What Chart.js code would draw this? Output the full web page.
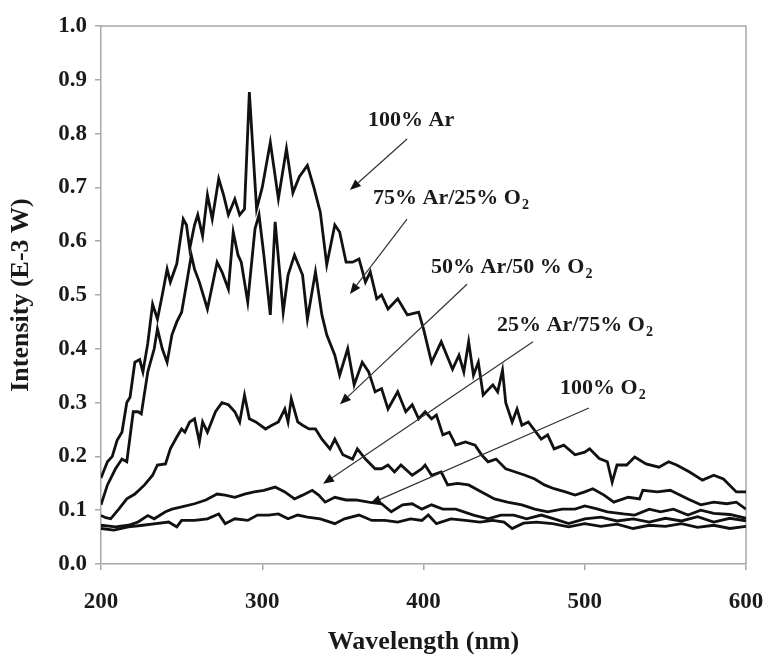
<!DOCTYPE html>
<html lang="en">
<head>
<meta charset="UTF-8">
<title>Intensity vs Wavelength</title>
<script src="https://cdn.jsdelivr.net/npm/chart.js"></script>
<style>
    html, body { margin: 0; padding: 0; background: #ffffff; }
    .chart-box { position: relative; width: 764px; height: 662px; }
</style>
</head>
<body>
<div class="chart-box"><canvas id="spectrumChart"></canvas></div>
<script>
// --- data (wavelength in nm, intensity in E-3 W) ---
const ar100Wl = [200,202,204,207,210,213,216,218,221,224,226,229,232,235,238,241,243,247,251,253,255,258,260,263,266,269,273,276,279,283,286,289,292,294,296.5,300,305,310,315,319,323,328,332,336,340,345,348,352,356,360,364,367,371,374,378,384,390,397,400,405,411,418,422,425,428,431,434,437,443,446,449,451,455,458,461,465,473,477,481,487,494,500,503,509,514,517,520,526,531,538,546,552,557,565,573,580,586,594,600];
const ar100Val = [0.16,0.175,0.19,0.20,0.23,0.245,0.30,0.31,0.375,0.38,0.357,0.41,0.483,0.455,0.50,0.548,0.524,0.558,0.641,0.63,0.586,0.63,0.649,0.61,0.686,0.641,0.716,0.686,0.649,0.678,0.649,0.66,0.877,0.78,0.66,0.70,0.784,0.679,0.772,0.69,0.72,0.741,0.70,0.654,0.556,0.63,0.617,0.561,0.561,0.567,0.524,0.543,0.493,0.50,0.474,0.493,0.463,0.468,0.437,0.375,0.413,0.362,0.388,0.357,0.413,0.351,0.375,0.314,0.333,0.32,0.36,0.30,0.264,0.288,0.258,0.264,0.232,0.24,0.214,0.221,0.203,0.208,0.214,0.196,0.19,0.152,0.184,0.184,0.199,0.186,0.18,0.19,0.184,0.171,0.156,0.165,0.158,0.134,0.134];

const ar75Wl = [200,204,209,213,216,220,223,225,229,233,235,238,241,244,247,250,253,256,258,261,266,272,275,279,282,285,287,291,295.5,298,301,305,308,313,316,320,325,328,333,337,340,345,348,353,357,362,366,370,374,378,384,389,393,397,401,405,408,412,416,420,426,432,436,440,445,451,457,463,469,475,481,488,494,500,505,512,518,527,534,536,545,553,564,572,580,588,594,600];
const ar75Val = [0.11,0.147,0.177,0.195,0.19,0.283,0.283,0.279,0.357,0.40,0.437,0.40,0.375,0.426,0.45,0.468,0.52,0.574,0.548,0.524,0.474,0.561,0.543,0.511,0.617,0.574,0.561,0.487,0.623,0.649,0.574,0.463,0.636,0.468,0.537,0.574,0.537,0.455,0.543,0.463,0.426,0.388,0.351,0.40,0.333,0.375,0.357,0.32,0.326,0.288,0.32,0.283,0.296,0.27,0.283,0.27,0.277,0.24,0.245,0.221,0.227,0.221,0.203,0.19,0.195,0.177,0.171,0.165,0.158,0.147,0.14,0.134,0.128,0.134,0.14,0.128,0.115,0.124,0.121,0.137,0.134,0.137,0.121,0.11,0.115,0.112,0.115,0.102];

const ar50Wl = [200,203,206,211,216,221,227,232,235,240,243,247,250,252,255,258,261,263,266,271,275,279,283,286,289,292,296,302,306,310,314,316,318,322,325,329,333,337,342,345,350,356,359,364,370,374,378,382,386,393,399,401,405,411,415,421,428,436,444,452,461,469,477,486,494,500,507,514,524,531,540,547,555,564,572,580,590,600];
const ar50Val = [0.09,0.086,0.084,0.102,0.121,0.13,0.147,0.165,0.184,0.186,0.214,0.236,0.251,0.245,0.264,0.27,0.227,0.264,0.245,0.283,0.30,0.296,0.283,0.264,0.314,0.27,0.264,0.251,0.258,0.264,0.288,0.264,0.307,0.264,0.258,0.251,0.251,0.232,0.214,0.232,0.203,0.195,0.214,0.195,0.177,0.177,0.184,0.171,0.184,0.165,0.177,0.184,0.165,0.171,0.147,0.15,0.147,0.134,0.121,0.115,0.11,0.102,0.097,0.102,0.102,0.108,0.103,0.097,0.093,0.091,0.102,0.097,0.102,0.091,0.10,0.094,0.092,0.085];

const ar25Wl = [200,209,217,223,229,233,240,244,250,258,265,272,277,283,289,295,301,308,314,320,325,331,335,339,345,352,358,366,374,380,387,393,399,405,412,420,431,440,448,456,464,473,481,490,500,510,520,530,540,550,560,570,580,590,600];
const ar25Val = [0.072,0.069,0.072,0.078,0.09,0.084,0.097,0.102,0.106,0.112,0.119,0.13,0.128,0.124,0.13,0.134,0.137,0.143,0.134,0.121,0.128,0.137,0.128,0.115,0.124,0.119,0.119,0.115,0.112,0.097,0.11,0.112,0.102,0.11,0.102,0.102,0.091,0.084,0.091,0.091,0.084,0.091,0.084,0.075,0.084,0.087,0.08,0.084,0.078,0.085,0.08,0.088,0.078,0.085,0.08];

const o2Wl = [200,208,217,226,234,242,247,250,258,266,273,277,283,291,297,304,310,316,322,328,336,345,351,360,368,376,384,392,399,403,408,417,426,435,443,450,455,462,470,480,490,500,510,520,530,540,550,560,570,580,590,600];
const o2Val = [0.066,0.063,0.069,0.072,0.075,0.078,0.069,0.081,0.081,0.084,0.093,0.075,0.084,0.081,0.091,0.091,0.093,0.084,0.091,0.087,0.084,0.075,0.084,0.091,0.081,0.081,0.078,0.084,0.081,0.091,0.075,0.084,0.081,0.078,0.081,0.078,0.066,0.076,0.078,0.075,0.069,0.075,0.07,0.074,0.066,0.072,0.07,0.075,0.068,0.072,0.066,0.07];

const xTicks = [200, 300, 400, 500, 600];
const yTicks = [0, 0.1, 0.2, 0.3, 0.4, 0.5, 0.6, 0.7, 0.8, 0.9, 1.0];

// labels with arrows, in data units: [text, subscript], text start x, text centre y, arrow from / to
const noteText = [['100% Ar', ''], ['75% Ar/25% O', '2'], ['50% Ar/50 % O', '2'], ['25% Ar/75% O', '2'], ['100% O', '2']];
const noteX = [365.6, 368.7, 404.7, 445.6, 484.7];
const noteY = [0.825, 0.680, 0.552, 0.444, 0.327];
const arrowFromX = [389.8, 389.8, 427.0, 467.9, 502.6];
const arrowFromY = [0.790, 0.641, 0.520, 0.413, 0.290];
const arrowToX = [354.4, 354.4, 348.2, 337.7, 366.8];
const arrowToY = [0.695, 0.502, 0.297, 0.149, 0.112];

function pairs(xs, ys) {
    return xs.map((x, i) => ({ x: x, y: ys[i] }));
}

const serif = '"Liberation Serif", "Times New Roman", serif';

// frame round the plot area (top and right sides)
const framePlugin = {
    id: 'frame',
    beforeDatasetsDraw(chart) {
        const a = chart.chartArea;
        const ctx = chart.ctx;
        ctx.save();
        ctx.strokeStyle = '#a8a8a8';
        ctx.lineWidth = 1.5;
        ctx.beginPath();
        ctx.moveTo(a.left, a.top);
        ctx.lineTo(a.right, a.top);
        ctx.lineTo(a.right, a.bottom);
        ctx.stroke();
        ctx.restore();
    }
};

// text notes and arrows
const notesPlugin = {
    id: 'notes',
    afterDatasetsDraw(chart) {
        const ctx = chart.ctx;
        const xs = chart.scales.x;
        const ys = chart.scales.y;
        ctx.save();
        for (let i = 0; i < noteText.length; i++) {
            const tx = xs.getPixelForValue(noteX[i]);
            const ty = ys.getPixelForValue(noteY[i]);
            ctx.fillStyle = '#1a1a1a';
            ctx.font = 'bold 22px ' + serif;
            ctx.textBaseline = 'middle';
            ctx.textAlign = 'left';
            ctx.fillText(noteText[i][0], tx, ty);
            if (noteText[i][1]) {
                const w = ctx.measureText(noteText[i][0]).width;
                ctx.font = 'bold 14px ' + serif;
                ctx.fillText(noteText[i][1], tx + w + 1, ty + 7);
            }

            const x1 = xs.getPixelForValue(arrowFromX[i]);
            const y1 = ys.getPixelForValue(arrowFromY[i]);
            const x2 = xs.getPixelForValue(arrowToX[i]);
            const y2 = ys.getPixelForValue(arrowToY[i]);
            const ang = Math.atan2(y2 - y1, x2 - x1);
            const len = 11, half = 4.5;
            const bx = x2 - len * Math.cos(ang);
            const by = y2 - len * Math.sin(ang);
            ctx.strokeStyle = '#333';
            ctx.lineWidth = 1.2;
            ctx.beginPath();
            ctx.moveTo(x1, y1);
            ctx.lineTo(bx, by);
            ctx.stroke();
            ctx.fillStyle = '#111';
            ctx.beginPath();
            ctx.moveTo(x2, y2);
            ctx.lineTo(bx + half * Math.sin(ang), by - half * Math.cos(ang));
            ctx.lineTo(bx - half * Math.sin(ang), by + half * Math.cos(ang));
            ctx.closePath();
            ctx.fill();
        }
        ctx.restore();
    }
};

function lineSet(label, xs, ys) {
    return {
        label: label,
        data: pairs(xs, ys),
        borderColor: '#111111',
        borderWidth: 2.8,
        pointRadius: 0,
        tension: 0,
        fill: false
    };
}

new Chart(document.getElementById('spectrumChart'), {
    type: 'line',
    data: {
        datasets: [
            lineSet('100% Ar', ar100Wl, ar100Val),
            lineSet('75% Ar/25% O2', ar75Wl, ar75Val),
            lineSet('50% Ar/50 % O2', ar50Wl, ar50Val),
            lineSet('25% Ar/75% O2', ar25Wl, ar25Val),
            lineSet('100% O2', o2Wl, o2Val)
        ]
    },
    options: {
        responsive: true,
        maintainAspectRatio: false,
        animation: false,
        layout: { padding: { left: 0, right: 0, top: 26, bottom: 0 } },
        plugins: {
            legend: { display: false },
            tooltip: { enabled: false }
        },
        scales: {
            x: {
                type: 'linear',
                min: 200,
                max: 600,
                afterFit(scale) {
                    scale.height = 98;
                    scale.paddingLeft = 0;
                    scale.paddingRight = 18;
                },
                afterBuildTicks(scale) { scale.ticks = xTicks.map(v => ({ value: v })); },
                grid: { drawOnChartArea: false, drawTicks: true, tickLength: 6, color: '#a8a8a8', lineWidth: 1.5 },
                border: { display: true, color: '#a8a8a8', width: 1.5 },
                ticks: {
                    color: '#1a1a1a',
                    padding: 18,
                    font: { family: serif, size: 23, weight: 'bold' },
                    callback: v => String(v)
                },
                title: {
                    display: true,
                    text: 'Wavelength (nm)',
                    color: '#1a1a1a',
                    font: { family: serif, size: 26, weight: 'bold' },
                    padding: { top: 0, bottom: 4 }
                }
            },
            y: {
                type: 'linear',
                min: 0,
                max: 1,
                afterFit(scale) { scale.width = 101; },
                afterBuildTicks(scale) { scale.ticks = yTicks.map(v => ({ value: v })); },
                grid: { drawOnChartArea: false, drawTicks: true, tickLength: 6, color: '#a8a8a8', lineWidth: 1.5 },
                border: { display: true, color: '#a8a8a8', width: 1.5 },
                ticks: {
                    color: '#1a1a1a',
                    padding: 8,
                    font: { family: serif, size: 23, weight: 'bold' },
                    callback: v => Number(v).toFixed(1)
                },
                title: {
                    display: true,
                    text: 'Intensity (E-3 W)',
                    color: '#1a1a1a',
                    font: { family: serif, size: 26, weight: 'bold' },
                    padding: { top: 6, bottom: 0 }
                }
            }
        }
    },
    plugins: [framePlugin, notesPlugin]
});
</script>
</body>
</html>
